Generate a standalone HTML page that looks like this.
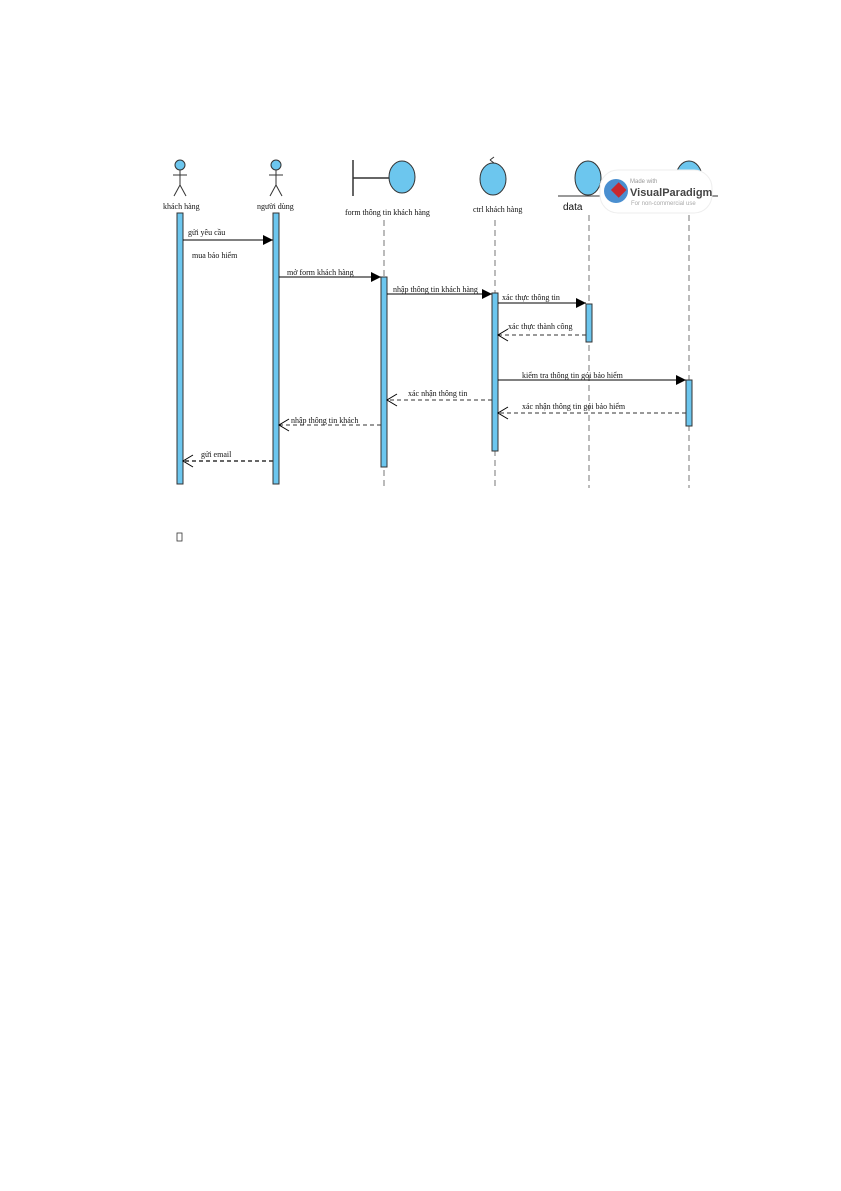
<!DOCTYPE html>
<html><head><meta charset="utf-8"><style>
html,body{margin:0;padding:0;background:#fff;}
svg{display:block;}
text{font-family:"Liberation Serif",serif;fill:#111;}
</style></head><body>
<svg width="841" height="1191" viewBox="0 0 841 1191" xmlns="http://www.w3.org/2000/svg">
<defs>
<marker id="f" markerWidth="10" markerHeight="10" refX="10" refY="5" orient="auto" markerUnits="userSpaceOnUse"><path d="M0,0 L10,5 L0,10 z" fill="#000"/></marker>
</defs>
<g stroke="#777" stroke-width="1" stroke-dasharray="6,4">
<line x1="384" y1="220" x2="384" y2="488"/>
<line x1="495" y1="220" x2="495" y2="488"/>
<line x1="589" y1="215" x2="589" y2="488"/>
<line x1="689" y1="215" x2="689" y2="488"/>
</g>
<g stroke="#333" stroke-width="1" fill="none">
<circle cx="180" cy="165" r="5" fill="#6cc6ee"/>
<line x1="180" y1="170" x2="180" y2="185"/><line x1="173" y1="175" x2="187" y2="175"/>
<line x1="180" y1="185" x2="174" y2="196"/><line x1="180" y1="185" x2="186" y2="196"/>
<circle cx="276" cy="165" r="5" fill="#6cc6ee"/>
<line x1="276" y1="170" x2="276" y2="185"/><line x1="269" y1="175" x2="283" y2="175"/>
<line x1="276" y1="185" x2="270" y2="196"/><line x1="276" y1="185" x2="282" y2="196"/>
</g>
<line x1="353" y1="160" x2="353" y2="196" stroke="#333" stroke-width="1.5"/>
<line x1="353" y1="178" x2="389" y2="178" stroke="#333" stroke-width="1.5"/>
<ellipse cx="402" cy="177" rx="13" ry="16" fill="#6cc6ee" stroke="#333"/>
<ellipse cx="493" cy="179" rx="13" ry="16" fill="#6cc6ee" stroke="#333"/>
<path d="M490,160 l4,3 M490,160 l4,-3" stroke="#333" fill="none"/>
<ellipse cx="588" cy="178" rx="13" ry="17" fill="#6cc6ee" stroke="#333"/>
<line x1="558" y1="196" x2="602" y2="196" stroke="#333"/>
<ellipse cx="689" cy="178" rx="13" ry="17" fill="#6cc6ee" stroke="#333"/>
<line x1="676" y1="196" x2="718" y2="196" stroke="#333"/>
<rect x="600" y="170" width="112" height="43" rx="18" fill="#fff" stroke="#eee"/>
<circle cx="616" cy="191" r="12" fill="#4a8fd0"/>
<rect x="613" y="184" width="11" height="11" fill="#c8282e" transform="rotate(45 618 190)"/>
<text x="630" y="183" font-size="6" style="font-family:'Liberation Sans',sans-serif;fill:#999">Made with</text>
<text x="630" y="196" font-size="11" font-weight="bold" style="font-family:'Liberation Sans',sans-serif;fill:#444">VisualParadigm</text>
<text x="631" y="205" font-size="6" style="font-family:'Liberation Sans',sans-serif;fill:#aaa">For non-commercial use</text>
<g font-size="8">
<text x="163" y="209">khách hàng</text>
<text x="257" y="209">người dùng</text>
<text x="345" y="215">form thông tin khách hàng</text>
<text x="473" y="212">ctrl khách hàng</text>
<text x="563" y="210" font-size="10" style="font-family:'Liberation Sans',sans-serif">data</text>
</g>
<g fill="#6cc6ee" stroke="#333" stroke-width="1">
<rect x="177" y="213" width="6" height="271"/>
<rect x="273" y="213" width="6" height="271"/>
<rect x="381" y="277" width="6" height="190"/>
<rect x="492" y="293" width="6" height="158"/>
<rect x="586" y="304" width="6" height="38"/>
<rect x="686" y="380" width="6" height="46"/>
</g>
<g stroke="#000" stroke-width="1" fill="none">
<line x1="183" y1="240" x2="273" y2="240" marker-end="url(#f)"/>
<line x1="279" y1="277" x2="381" y2="277" marker-end="url(#f)"/>
<line x1="387" y1="294" x2="492" y2="294" marker-end="url(#f)"/>
<line x1="498" y1="303" x2="586" y2="303" marker-end="url(#f)"/>
<line x1="498" y1="380" x2="686" y2="380" marker-end="url(#f)"/>
</g>
<g stroke="#333" stroke-width="1" fill="none" stroke-dasharray="4,3">
<line x1="586" y1="335" x2="498" y2="335"/>
<line x1="492" y1="400" x2="387" y2="400"/>
<line x1="686" y1="413" x2="498" y2="413"/>
<line x1="381" y1="425" x2="279" y2="425"/>
<line x1="273" y1="461" x2="183" y2="461" stroke-width="1.5"/>
</g>
<g stroke="#000" fill="none" stroke-width="1">
<path d="M508,329 L498,335 L508,341"/>
<path d="M397,394 L387,400 L397,406"/>
<path d="M508,407 L498,413 L508,419"/>
<path d="M289,419 L279,425 L289,431"/>
<path d="M193,455 L183,461 L193,467"/>
</g>
<g font-size="8">
<text x="188" y="235">gửi yêu cầu</text>
<text x="192" y="258">mua bảo hiểm</text>
<text x="287" y="275">mở form khách hàng</text>
<text x="393" y="292">nhập thông tin khách hàng</text>
<text x="502" y="300">xác thực thông tin</text>
<text x="508" y="329">xác thực thành công</text>
<text x="522" y="378">kiểm tra thông tin gói bảo hiểm</text>
<text x="408" y="396">xác nhận thông tin</text>
<text x="522" y="409">xác nhận thông tin gói bảo hiểm</text>
<text x="291" y="423">nhập thông tin khách</text>
<text x="201" y="457">gửi email</text>
</g>
<rect x="177" y="533" width="5" height="8" fill="none" stroke="#333" stroke-width="0.8"/>
</svg>
</body></html>
